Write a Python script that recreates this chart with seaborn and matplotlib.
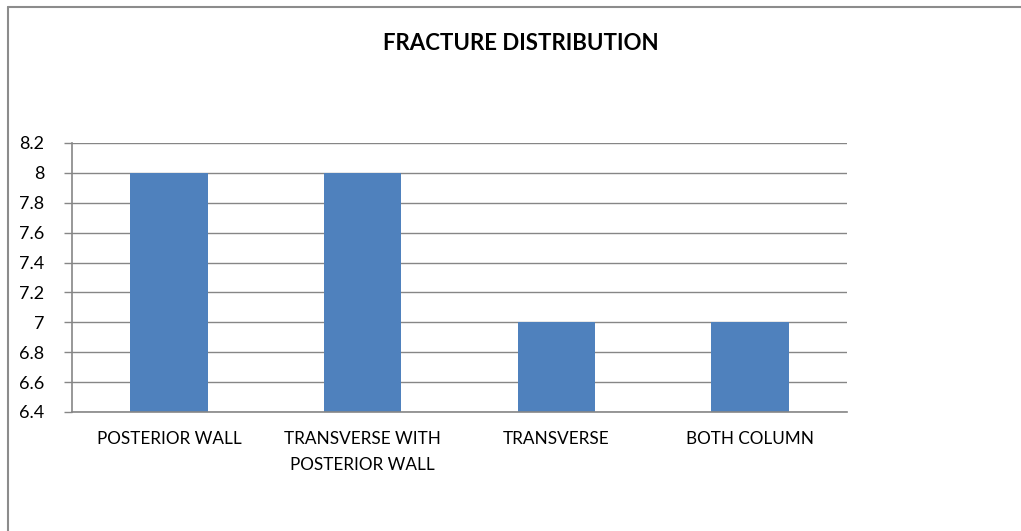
import numpy as np
import pandas as pd
import matplotlib
matplotlib.use('Agg')
import matplotlib.pyplot as plt
import seaborn as sns
from matplotlib.lines import Line2D

# Data
categories = ['POSTERIOR WALL', 'TRANSVERSE WITH\nPOSTERIOR WALL', 'TRANSVERSE', 'BOTH COLUMN']
counts = [8, 8, 7, 7]
y_ticks = [6.4, 6.6, 6.8, 7.0, 7.2, 7.4, 7.6, 7.8, 8.0, 8.2]
y_tick_labels = ['6.4', '6.6', '6.8', '7', '7.2', '7.4', '7.6', '7.8', '8', '8.2']

sns.set_style('white')
plt.rcParams['font.family'] = ['Lato', 'DejaVu Sans']
plt.rcParams['text.color'] = 'black'
plt.rcParams['xtick.labelcolor'] = 'black'
plt.rcParams['ytick.labelcolor'] = 'black'

df = pd.DataFrame({'category': categories, 'count': counts})

fig = plt.figure(figsize=(10.21, 5.31), dpi=100)
ax = fig.add_axes([72 / 1021, 1 - 412 / 531, 775 / 1021, 269 / 531])

grid_color = '#868686'
sns.barplot(data=df, x='category', y='count', color='#4F81BD', width=0.4,
            saturation=1, linewidth=0, ax=ax, zorder=3)

ax.set_ylim(6.4, 8.2)
ax.set_xlim(-0.5, len(categories) - 0.5)
ax.set_yticks(y_ticks)
ax.set_yticklabels(y_tick_labels, fontsize=13)
ax.set_xticks(range(len(categories)))
ax.set_xticklabels(categories, fontsize=12.3, linespacing=1.75)
ax.set_xticks(np.arange(-0.5, len(categories), 1.0), minor=True)
ax.tick_params(axis='x', which='major', length=0, pad=14)
ax.tick_params(axis='x', which='minor', length=6, width=1, color=grid_color, direction='out')
ax.tick_params(axis='y', length=6, width=1, color=grid_color, direction='out', pad=14, left=True)
ax.set_xlabel('')
ax.set_ylabel('')

ax.yaxis.grid(True, color=grid_color, linewidth=1)
ax.set_axisbelow(True)
for side in ['top', 'right']:
    ax.spines[side].set_visible(False)
for side in ['left', 'bottom']:
    ax.spines[side].set_color(grid_color)
    ax.spines[side].set_linewidth(1.2)
ax.spines['bottom'].set_zorder(4)

fig.text(521 / 1021, 1 - 43 / 531, 'FRACTURE DISTRIBUTION', ha='center', va='center',
         fontsize=16, fontweight='bold')

# chart frame (left and top edges visible)
fig.add_artist(Line2D([8 / 1021, 8 / 1021], [0, 1 - 7 / 531], transform=fig.transFigure,
                      color='#8c8c8c', linewidth=1.5))
fig.add_artist(Line2D([8 / 1021, 1], [1 - 7 / 531, 1 - 7 / 531], transform=fig.transFigure,
                      color='#8c8c8c', linewidth=1.5))

fig.savefig('out.png', dpi=100)
